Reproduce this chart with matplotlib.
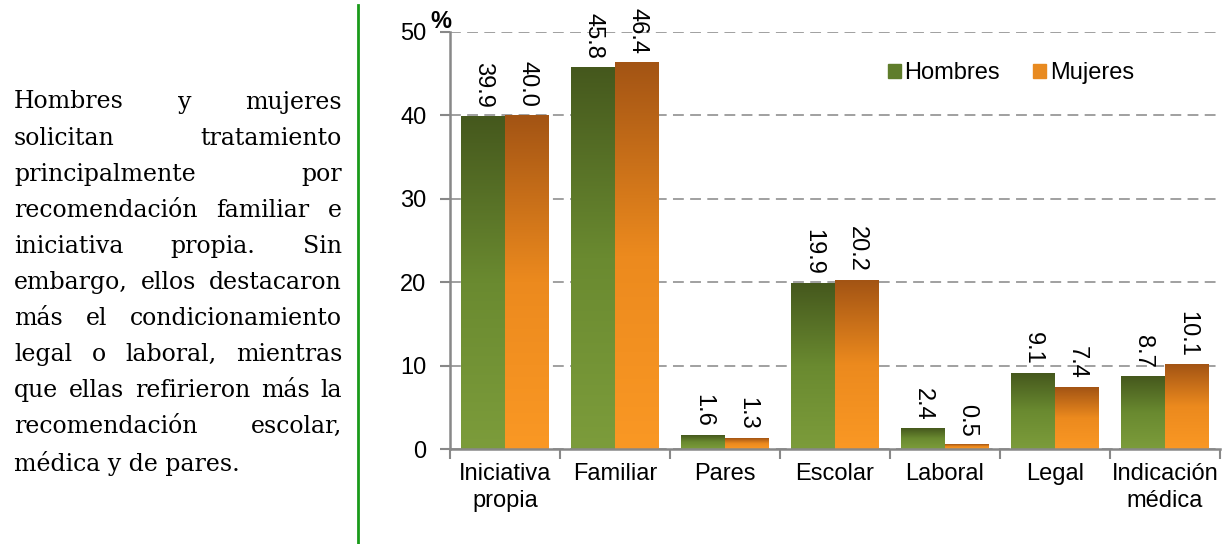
import matplotlib.pyplot as plt
import numpy as np
from matplotlib.colors import LinearSegmentedColormap
from matplotlib.patches import Patch

categories = ["Iniciativa\npropia", "Familiar", "Pares", "Escolar",
              "Laboral", "Legal", "Indicación\nmédica"]
hombres = [39.9, 45.8, 1.6, 19.9, 2.4, 9.1, 8.7]
mujeres = [40.0, 46.4, 1.3, 20.2, 0.5, 7.4, 10.1]

text_lines = [
    "Hombres y mujeres",
    "solicitan tratamiento",
    "principalmente por",
    "recomendación familiar e",
    "iniciativa propia. Sin",
    "embargo, ellos destacaron",
    "más el condicionamiento",
    "legal o laboral, mientras",
    "que ellas refirieron más la",
    "recomendación escolar,",
    "médica y de pares.",
]

plt.rcParams['font.family'] = ['Liberation Sans', 'DejaVu Sans']

fig = plt.figure(figsize=(12.3, 5.44), dpi=100)
W, H = 1230, 544
ax = fig.add_axes([450 / W, 1 - 449 / H, 770 / W, 417 / H])

green_cmap = LinearSegmentedColormap.from_list("g", ["#7c9c3b", "#6a8a30", "#45581d"])
orange_cmap = LinearSegmentedColormap.from_list("o", ["#fa9824", "#ec8a1e", "#a35414"])
grad = np.linspace(0, 1, 256).reshape(-1, 1)

x = np.arange(len(categories))
bw = 0.4
for series, offs, cmap in [(hombres, -bw / 2, green_cmap), (mujeres, bw / 2, orange_cmap)]:
    bars = ax.bar(x + offs, series, bw, color='none', edgecolor='none', zorder=3)
    for b, v in zip(bars, series):
        x0 = b.get_x()
        ax.imshow(grad, extent=[x0, x0 + bw, 0, v], origin='lower', aspect='auto',
                  cmap=cmap, zorder=3)
        ax.annotate(f"{v:.1f}", (x0 + bw / 2, v), xytext=(0, 6),
                    textcoords='offset points', rotation=-90,
                    ha='center', va='bottom', fontsize=17, zorder=4)

ax.set_xlim(-0.5, len(categories) - 0.5)
ax.set_ylim(0, 50)
ax.set_yticks(range(0, 51, 10))
ax.tick_params(axis='y', labelsize=17, length=7, width=1.5, color='#888888', pad=10)
ax.set_xticks(x)
ax.set_xticklabels(categories, fontsize=17, linespacing=1.3)
ax.tick_params(axis='x', length=0, pad=10)
ax.set_xticks(np.arange(-0.5, len(categories), 1), minor=True)
ax.tick_params(axis='x', which='minor', length=7, width=1.5, color='#888888')
ax.grid(axis='y', linestyle=(0, (6, 3.5)), color='#999999', linewidth=1.3, zorder=0)
for s in ['top', 'right']:
    ax.spines[s].set_visible(False)
for s in ['left', 'bottom']:
    ax.spines[s].set_color('#888888')
    ax.spines[s].set_linewidth(1.8)
    ax.spines[s].set_zorder(5)

handles = [Patch(color='#5f7d2b', label='Hombres'), Patch(color='#e88a20', label='Mujeres')]
ax.legend(handles=handles, loc='center left', bbox_to_anchor=(438 / 770, (449 - 73) / 417),
          ncol=2, frameon=False, fontsize=17, handlelength=0.55, handleheight=0.55,
          handletextpad=0.15, columnspacing=1.4, borderaxespad=0, borderpad=0)

fig.text(441 / W, 1 - 22 / H, "%", fontsize=17, fontweight='bold', ha='center', va='center')

# green divider line
fig.add_artist(plt.Line2D([358 / W, 358 / W], [0, 1 - 5 / H], color='#1a9a1a', lw=2))

# justified paragraph on the left
fig.canvas.draw()
renderer = fig.canvas.get_renderer()
left, right = 14, 342
fs = 17
for i, line in enumerate(text_lines):
    y = 1 - (102 + i * 36.1) / H
    words = line.split()
    if i == len(text_lines) - 1:
        fig.text(left / W, y, line, fontsize=fs, family='DejaVu Serif', va='center')
        continue
    texts = [fig.text(0, y, w, fontsize=fs, family='DejaVu Serif', va='center') for w in words]
    widths = [t.get_window_extent(renderer).width for t in texts]
    gap = (right - left - sum(widths)) / (len(words) - 1)
    pos = left
    for t, wd in zip(texts, widths):
        t.set_x(pos / W)
        pos += wd + gap

fig.savefig("out.png", dpi=100)
